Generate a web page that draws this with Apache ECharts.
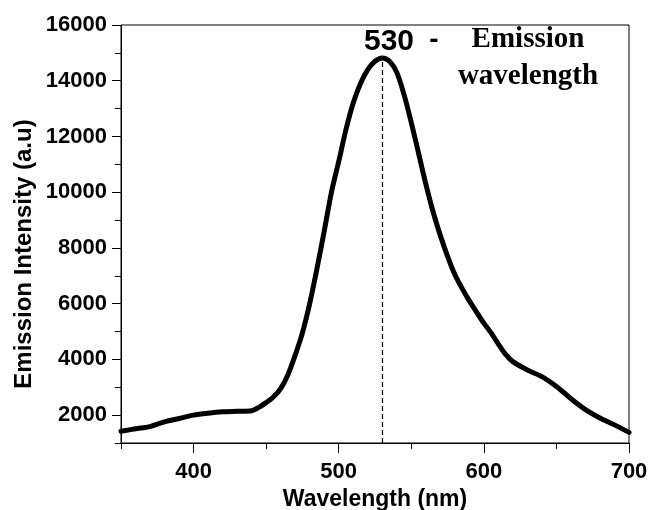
<!DOCTYPE html>
<html>
<head>
<meta charset="utf-8">
<script src="https://cdn.jsdelivr.net/npm/echarts@6/dist/echarts.min.js"></script>
<style>html,body{margin:0;padding:0;background:#fff;}#c{width:649px;height:510px;}</style>
</head>
<body>
<div id="c"></div>
<script>
var wavelengths = [350,360,370,380,390,400,410,420,430,440,445,450,455,460,465,470,475,480,485,490,495,500,505,510,515,520,525,530,535,540,545,550,555,560,565,570,575,580,585,590,595,600,605,610,615,620,630,640,650,660,670,680,690,700];
var intensities = [1420,1510,1590,1760,1880,2000,2070,2120,2140,2160,2280,2450,2650,2950,3450,4150,4950,6000,7250,8600,10000,11100,12250,13200,13900,14400,14700,14820,14700,14300,13500,12500,11400,10300,9300,8450,7700,7050,6550,6100,5700,5300,4950,4550,4180,3920,3620,3380,3030,2590,2200,1900,1650,1380];
var xMajorTicks = [400,500,600,700];
var xMinorTicks = [350,450,550,650];
var yMajorTicks = [2000,4000,6000,8000,10000,12000,14000,16000];
var yMinorTicks = [1000,3000,5000,7000,9000,11000,13000,15000];
var peakWavelength = 530;
var peakIntensity = 14820;

var pts = wavelengths.map(function(w,i){return [w, intensities[i]];});
var font = '"Liberation Sans", Arial, sans-serif';
var chart = echarts.init(document.getElementById('c'));
chart.setOption({
  animation: false,
  backgroundColor: '#fff',
  grid: {left: 121, right: 20, top: 25, bottom: 67, show: true, borderColor: '#000', borderWidth: 1, backgroundColor: 'transparent', containLabel: false, outerBoundsMode: 'none'},
  xAxis: [{
    type: 'value', min: 350, max: 700, interval: 50,
    name: 'Wavelength (nm)', nameLocation: 'middle', nameGap: 44,
    nameTextStyle: {fontFamily: font, fontWeight: 'bold', fontSize: 23, color: '#000'},
    axisLine: {show: true, lineStyle: {color: '#000', width: 1}},
    axisTick: {show: true, customValues: xMajorTicks, length: 10, lineStyle: {color: '#000', width: 1}},
    axisLabel: {customValues: xMajorTicks, fontFamily: font, fontWeight: 'bold', fontSize: 22, color: '#000', margin: 18,
      formatter: function(v){return String(v);}},
    splitLine: {show: false}
  },{
    type: 'value', min: 350, max: 700, interval: 50, position: 'bottom',
    axisLine: {show: false},
    axisTick: {show: true, customValues: xMinorTicks, length: 6, lineStyle: {color: '#000', width: 1}},
    axisLabel: {show: false},
    splitLine: {show: false}
  }],
  yAxis: [{
    type: 'value', min: 1000, max: 16000, interval: 1000,
    axisLine: {show: true, lineStyle: {color: '#000', width: 1}},
    axisTick: {show: true, customValues: yMajorTicks, length: 9, lineStyle: {color: '#000', width: 1}},
    axisLabel: {customValues: yMajorTicks, fontFamily: font, fontWeight: 'bold', fontSize: 22, color: '#000', margin: 14,
      formatter: function(v){return String(v);}},
    splitLine: {show: false}
  },{
    type: 'value', min: 1000, max: 16000, interval: 1000, position: 'left',
    axisLine: {show: false},
    axisTick: {show: true, customValues: yMinorTicks, length: 6, lineStyle: {color: '#000', width: 1}},
    axisLabel: {show: false},
    splitLine: {show: false}
  }],
  series: [{
    type: 'line', data: pts, xAxisIndex: 0, yAxisIndex: 0,
    showSymbol: false, smooth: 0.3,
    lineStyle: {color: '#000', width: 5, cap: 'round', join: 'round'},
    markLine: {
      silent: true, symbol: ['none','none'], label: {show: false},
      lineStyle: {color: '#000', width: 1.2, type: [5,3]},
      data: [[{coord: [peakWavelength, 1000]}, {coord: [peakWavelength, peakIntensity]}]]
    }
  }],
  graphic: [
    {type: 'text', x: 24, y: 254, rotation: Math.PI/2,
     style: {text: 'Emission Intensity (a.u)', font: 'bold 24px ' + font, fill: '#000', align: 'center', verticalAlign: 'middle'}},
    {type: 'text', x: 389, y: 42, style: {text: String(peakWavelength), font: 'bold 30px ' + font, fill: '#000', align: 'center', verticalAlign: 'middle'}},
    {type: 'text', x: 434, y: 40, style: {text: '-', font: 'bold 28px ' + font, fill: '#000', align: 'center', verticalAlign: 'middle'}},
    {type: 'text', x: 528, y: 40, style: {text: 'Emission', font: 'bold 29px "Liberation Serif", "Times New Roman", serif', fill: '#000', align: 'center', verticalAlign: 'middle'}},
    {type: 'text', x: 528, y: 77, style: {text: 'wavelength', font: 'bold 29px "Liberation Serif", "Times New Roman", serif', fill: '#000', align: 'center', verticalAlign: 'middle'}}
  ]
});
</script>
</body>
</html>
